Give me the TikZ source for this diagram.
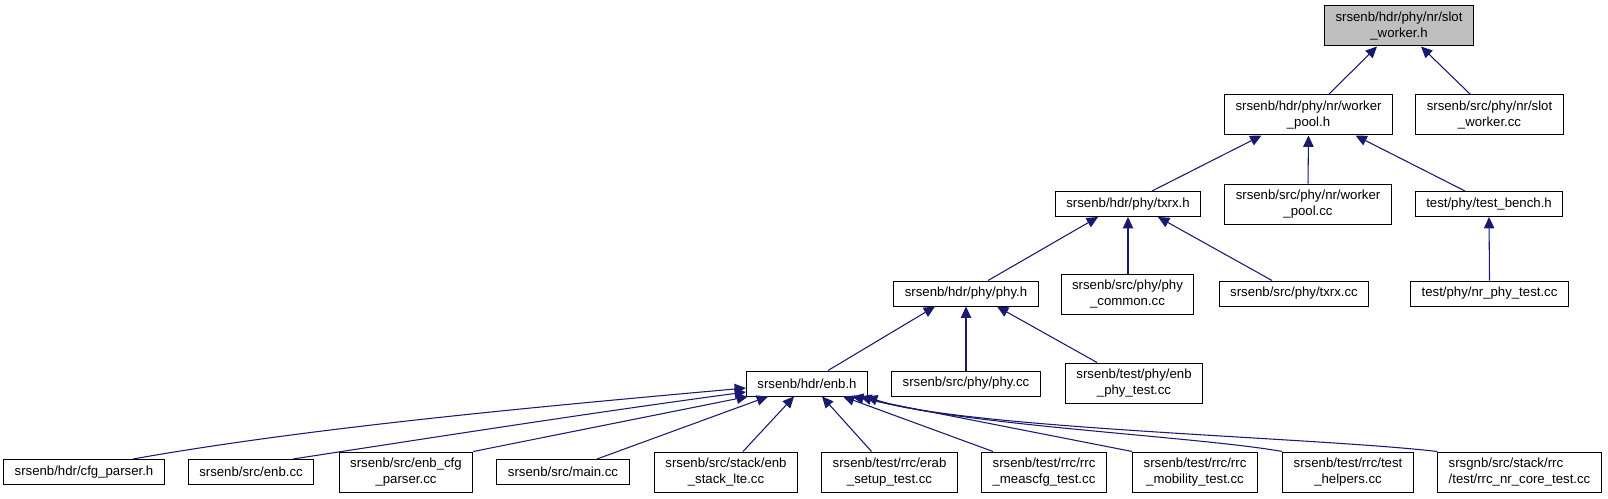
\documentclass[tikz,border=0pt]{standalone}
\usepackage{fontspec}
\setmainfont{Liberation Sans}
\usetikzlibrary{arrows.meta,calc}
\definecolor{edgeblue}{RGB}{25,25,112}
\definecolor{topgrey}{RGB}{191,191,191}
\begin{document}
\begin{tikzpicture}[x=0.75pt,y=-0.75pt,
  box/.style={draw=black, line width=0.75pt, fill=white, inner xsep=8.25pt, inner ysep=0pt,
    minimum height=18.75pt, font=\fontsize{9.9}{12}\selectfont, align=center},
  two/.style={minimum height=30pt},
  edge/.style={draw=edgeblue, line width=0.8pt, -{Triangle[length=8.5pt,width=7.8pt]}}]
\useasboundingbox (0,0) rectangle (1608,499);
% rank 1
\node[box,two,fill=topgrey] (sw) at (1399,26) {srsenb/hdr/phy/nr/slot\\\_worker.h};
% rank 2
\node[box,two] (wp) at (1308.5,115) {srsenb/hdr/phy/nr/worker\\\_pool.h};
\node[box,two] (swcc) at (1489.5,115) {srsenb/src/phy/nr/slot\\\_worker.cc};
% rank 3
\node[box] (txrx) at (1128,204) {srsenb/hdr/phy/txrx.h};
\node[box,two] (wpcc) at (1308,204) {srsenb/src/phy/nr/worker\\\_pool.cc};
\node[box] (tb) at (1489,204) {test/phy/test\_bench.h};
% rank 4
\node[box] (phy) at (966,293.5) {srsenb/hdr/phy/phy.h};
\node[box,two] (pc) at (1127.5,294) {srsenb/src/phy/phy\\\_common.cc};
\node[box] (txcc) at (1294,293.5) {srsenb/src/phy/txrx.cc};
\node[box] (nrpt) at (1489.5,293.5) {test/phy/nr\_phy\_test.cc};
% rank 5
\node[box] (enb) at (807,383.5) {srsenb/hdr/enb.h};
\node[box] (phycc) at (966,383.5) {srsenb/src/phy/phy.cc};
\node[box,two] (ept) at (1134,383) {srsenb/test/phy/enb\\\_phy\_test.cc};
% rank 6
\node[box] (cfg) at (84,472) {srsenb/hdr/cfg\_parser.h};
\node[box] (enbcc) at (251,472) {srsenb/src/enb.cc};
\node[box,two] (ecp) at (406,472) {srsenb/src/enb\_cfg\\\_parser.cc};
\node[box] (main) at (563,472) {srsenb/src/main.cc};
\node[box,two] (esl) at (726,472) {srsenb/src/stack/enb\\\_stack\_lte.cc};
\node[box,two] (erab) at (889.5,472) {srsenb/test/rrc/erab\\\_setup\_test.cc};
\node[box,two] (meas) at (1044,472) {srsenb/test/rrc/rrc\\\_meascfg\_test.cc};
\node[box,two] (mob) at (1195,472) {srsenb/test/rrc/rrc\\\_mobility\_test.cc};
\node[box,two] (th) at (1348,472) {srsenb/test/rrc/test\\\_helpers.cc};
\node[box,two,align=left] (nrc) at (1519.5,472) {srsgnb/src/stack/rrc\\/test/rrc\_nr\_core\_test.cc};
% edges rank 2 -> 1
\draw[edge] ($(wp.north)+(20,0)$) -- ($(sw.south)+(-22,0)$);
\draw[edge] ($(swcc.north)+(-19,0)$) -- ($(sw.south)+(22,0)$);
% rank 3 -> 2
\draw[edge] ($(txrx.north)+(24,0)$) -- ($(wp.south)+(-47,0)$);
\draw[edge] (wpcc.north) -- (wp.south);
\draw[edge] ($(tb.north)+(-24,0)$) -- ($(wp.south)+(47,0)$);
% rank 4 -> 3
\draw[edge] ($(phy.north)+(22,0)$) -- ($(txrx.south)+(-30,0)$);
\draw[edge] (pc.north -| txrx.south) -- (txrx.south);
\draw[edge] ($(txcc.north)+(-22,0)$) -- ($(txrx.south)+(30,0)$);
\draw[edge] (nrpt.north) -- (tb.south);
% rank 5 -> 4
\draw[edge] ($(enb.north)+(21,0)$) -- ($(phy.south)+(-31,0)$);
\draw[edge] (phycc.north) -- (phy.south);
\draw[edge] ($(ept.north)+(-37,0)$) -- ($(phy.south)+(31,0)$);
% rank 6 -> enb.h
\draw[edge] ($(cfg.north)+(49,0)$) .. controls +(180,-32) and +(-200,18) .. ($(enb.west)+(0,4.5)$);
\draw[edge] ($(enbcc.north)+(42,0)$) .. controls +(130,-20) and +(-150,20) .. ($(enb.west)+(0,8.5)$);
\draw[edge] (ecp.north east) -- ($(enb.south west)+(2,0)$);
\draw[edge] ($(main.north)+(34,0)$) -- ($(enb.south)+(-39,0)$);
\draw[edge] ($(esl.north)+(17,0)$) -- ($(enb.south)+(-13,0)$);
\draw[edge] ($(erab.north)+(-18,0)$) -- ($(enb.south)+(15,0)$);
\draw[edge] ($(meas.north)+(-51,0)$) -- ($(enb.south)+(36,0)$);
\draw[edge] (mob.north west) -- ($(enb.south)+(45,0)$);
\draw[edge] (th.north west) .. controls +(-83,-15) and +(102,29) .. ($(enb.south east)+(-8,0)$);
\draw[edge] (nrc.north west) .. controls +(-118,-14) and +(95,32) .. ($(enb.south east)+(-2,0)$);
\end{tikzpicture}
\end{document}
